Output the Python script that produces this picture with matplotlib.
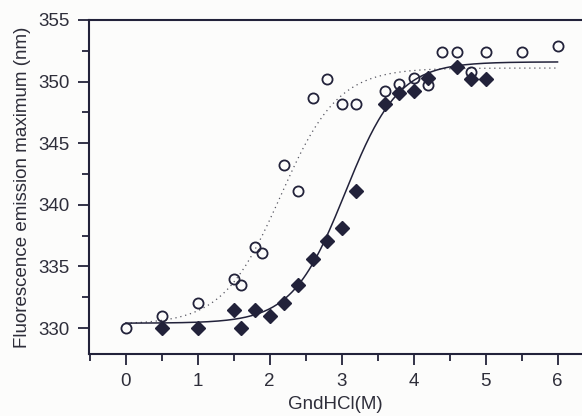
import numpy as np
import matplotlib
matplotlib.use("Agg")
import matplotlib.pyplot as plt
from matplotlib.ticker import MultipleLocator

# open circles
circ_x = [0, 0.5, 1.0, 1.5, 1.6, 1.8, 1.9, 2.2, 2.4, 2.6, 2.8, 3.0, 3.2,
          3.6, 3.8, 4.0, 4.2, 4.4, 4.6, 4.8, 5.0, 5.5, 6.0]
circ_y = [330.0, 331.0, 332.0, 334.0, 333.5, 336.6, 336.1, 343.2, 341.1, 348.7,
          350.2, 348.2, 348.2, 349.2, 349.8, 350.3, 349.7, 352.4, 352.4, 350.8,
          352.4, 352.4, 352.9]

# filled diamonds
diam_x = [0.5, 1.0, 1.5, 1.6, 1.8, 2.0, 2.2, 2.4, 2.6, 2.8, 3.0, 3.2,
          3.6, 3.8, 4.0, 4.2, 4.6, 4.8, 5.0]
diam_y = [330.0, 330.0, 331.5, 330.0, 331.5, 331.0, 332.0, 333.5, 335.6, 337.1,
          338.1, 341.1, 348.2, 349.1, 349.2, 350.3, 351.2, 350.2, 350.2]

# Boltzmann fit parameters (A1, A2, x0, dx)
fit_solid = (330.4, 351.6, 3.05, 0.37)
fit_dotted = (330.3, 351.1, 2.15, 0.40)


def boltzmann(x, a1, a2, x0, dx):
    return a2 + (a1 - a2) / (1 + np.exp((x - x0) / dx))


ink = '#22223a'
plt.rcParams.update({
    'font.family': ['Liberation Sans', 'DejaVu Sans'],
    'font.size': 13.5,
    'text.color': '#2e2e3a',
    'axes.labelcolor': '#2e2e3a',
    'xtick.color': ink,
    'ytick.color': ink,
    'xtick.labelcolor': '#2e2e3a',
    'ytick.labelcolor': '#2e2e3a',
})

fig = plt.figure(figsize=(5.82, 4.16), dpi=100, facecolor='#fcfcfb')
ax = fig.add_axes([0.153, 0.149, 0.847, 0.803])
ax.set_facecolor('#fcfcfb')

xs = np.linspace(0, 6, 300)
ax.plot(xs, boltzmann(xs, *fit_dotted), color='#555560', lw=0.9,
        ls=(0, (1, 3)))
ax.plot(xs, boltzmann(xs, *fit_solid), color=ink, lw=1.1)

ax.plot(circ_x, circ_y, 'o', ms=7.3, mfc='none', mec=ink, mew=1.3)
ax.plot(diam_x, diam_y, 'D', ms=6.8, mfc=ink, mec=ink)

ax.set_xlim(-0.51, 6.34)
ax.set_ylim(327.9, 355)
ax.xaxis.set_major_locator(MultipleLocator(1))
ax.xaxis.set_minor_locator(MultipleLocator(0.5))
ax.yaxis.set_major_locator(MultipleLocator(5))
ax.yaxis.set_minor_locator(MultipleLocator(2.5))
ax.tick_params(which='major', direction='out', length=8, width=1.3, pad=6)
ax.tick_params(which='minor', direction='out', length=5, width=1.3)

for side in ('left', 'bottom', 'top'):
    ax.spines[side].set_color(ink)
    ax.spines[side].set_linewidth(1.5)
ax.spines['right'].set_visible(False)

ax.set_xlabel('GndHCl(M)', labelpad=4)
ax.set_ylabel('Fluorescence emission maximum (nm)', labelpad=5)

fig.savefig('out.png', dpi=100, facecolor=fig.get_facecolor())
